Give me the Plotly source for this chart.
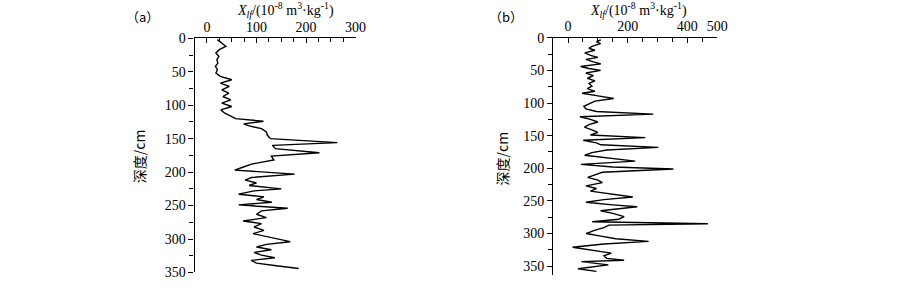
import plotly.graph_objects as go

# Panel (a)
depth_a = [2, 7, 12, 17, 22, 27, 32, 37, 42, 47, 52, 57, 62, 67, 72, 77, 82, 87, 92, 97,
           102, 107, 112, 117, 120, 124, 128, 131, 135, 140, 145, 150, 156, 160, 165, 171,
           176, 182, 188, 192, 197, 203, 208, 212, 216, 220, 225, 228, 233, 237, 241, 245,
           249, 254, 258, 263, 268, 273, 277, 282, 287, 292, 296, 300, 304, 308, 312, 316,
           320, 324, 328, 332, 336, 340, 344]
xlf_a = [21, 30, 38, 25, 18, 24, 20, 22, 17, 21, 18, 27, 50, 27, 45, 30, 44, 32, 48, 30,
         50, 28, 36, 50, 58, 114, 74, 85, 110, 120, 122, 128, 263, 132, 138, 227,
         130, 135, 90, 75, 56, 177, 90, 77, 100, 85, 150, 95, 64, 115, 100, 131,
         64, 163, 110, 100, 120, 73, 110, 95, 115, 93, 120, 140, 168, 120, 100, 130,
         95, 110, 137, 89, 100, 140, 185]

# Panel (b)
depth_b = [3, 6, 9, 13, 16, 19, 23, 27, 30, 33, 37, 40, 44, 47, 50, 54, 58, 62, 66, 70,
           74, 78, 82, 85, 89, 93, 97, 101, 105, 109, 113, 117, 121, 125, 129, 133, 137,
           141, 145, 149, 153, 157, 161, 164, 168, 172, 176, 180, 185, 189, 194, 198, 201,
           206, 210, 214, 218, 222, 227, 231, 235, 240, 244, 248, 252, 256, 259, 265, 269,
           274, 278, 282, 285, 287, 291, 295, 300, 304, 308, 312, 316, 321, 325, 330, 334,
           338, 341, 343, 348, 351, 354, 358]
xlf_b = [110, 95, 109, 80, 70, 90, 56, 75, 100, 60, 85, 110, 42, 70, 109, 60, 85, 65, 90, 70,
         80, 65, 90, 47, 100, 153, 90, 70, 53, 60, 95, 286, 40, 75, 100, 70, 55,
         80, 100, 75, 259, 51, 95, 110, 303, 130, 80, 56, 140, 225, 43, 150, 353,
         115, 90, 66, 100, 115, 60, 95, 75, 150, 217, 120, 60, 150, 232, 109, 150,
         188, 170, 81, 469, 137, 120, 88, 61, 110, 160, 270, 120, 15, 70, 145, 120,
         130, 188, 45, 135, 80, 33, 95]

y_ticks = [0, 50, 100, 150, 200, 250, 300, 350]
xa_ticks = [0, 100, 200, 300]
xb_ticks = [0, 200, 400, 500]

W, H = 900, 289
SERIF = "Liberation Serif, Times New Roman, serif"
CJK = "Noto Sans CJK SC, serif"

def px(x):
    return x / W

def py(y):
    return 1 - y / H

fig = go.Figure()
fig.add_trace(go.Scatter(x=xlf_a, y=depth_a, mode="lines",
                         line=dict(color="black", width=1.4), xaxis="x", yaxis="y",
                         showlegend=False))
fig.add_trace(go.Scatter(x=xlf_b, y=depth_b, mode="lines",
                         line=dict(color="black", width=1.4), xaxis="x2", yaxis="y2",
                         showlegend=False))

tickfont = dict(family=SERIF, size=14, color="black")

def xax(dom, rng, tv, minor_dt, anchor):
    return dict(domain=dom, range=rng, side="top", anchor=anchor,
                showline=True, linecolor="black", linewidth=1.3,
                tickvals=tv, ticks="inside", ticklen=5, tickwidth=1.2, tickcolor="black",
                minor=dict(dtick=minor_dt, tick0=0, ticks="inside", ticklen=4,
                           tickwidth=1.2, tickcolor="black"),
                showgrid=False, zeroline=False, tickfont=tickfont, fixedrange=True)

def yax(dom, rng, anchor):
    return dict(domain=dom, range=rng, anchor=anchor,
                showline=True, linecolor="black", linewidth=1.3,
                tickvals=y_ticks, ticks="outside", ticklen=5, tickwidth=1.2, tickcolor="black",
                minor=dict(dtick=25, tick0=0, ticks="outside", ticklen=4,
                           tickwidth=1.2, tickcolor="black"),
                showgrid=False, zeroline=False, tickfont=tickfont, fixedrange=True)

fig.update_layout(
    width=W, height=H,
    margin=dict(l=0, r=0, t=0, b=0),
    paper_bgcolor="white", plot_bgcolor="white",
    xaxis=xax([px(197), px(360)], [-25, 300], xa_ticks, 25, "y"),
    yaxis=yax([py(280), py(33)], [350, 0], "x"),
    xaxis2=xax([px(560), px(726)], [-50, 500], xb_ticks, 50, "y2"),
    yaxis2=yax([py(283), py(32.5)], [364, 0], "x2"),
)

xtitle = "<i>X</i><sub><i>lf</i></sub>/(10<sup>-8</sup> m<sup>3</sup>·kg<sup>-1</sup>)"
common = dict(xref="paper", yref="paper", showarrow=False, xanchor="center", yanchor="middle")
ann = [
    dict(text=xtitle, x=px(289), y=py(10), yshift=6,
         font=dict(family=SERIF, size=14, color="black"), **common),
    dict(text=xtitle, x=px(646), y=py(10), yshift=6,
         font=dict(family=SERIF, size=14, color="black"), **common),
    dict(text="（a）", x=px(144), y=py(10), font=dict(family=CJK, size=13, color="black"), **common),
    dict(text="（b）", x=px(512), y=py(10), font=dict(family=CJK, size=13, color="black"), **common),
    dict(text="深度/cm", x=px(141), y=py(157), textangle=-90,
         font=dict(family=CJK, size=14, color="black"), **common),
    dict(text="深度/cm", x=px(508), y=py(160), textangle=-90,
         font=dict(family=CJK, size=14, color="black"), **common),
]
fig.update_layout(annotations=ann)

fig.write_html("out.html")
